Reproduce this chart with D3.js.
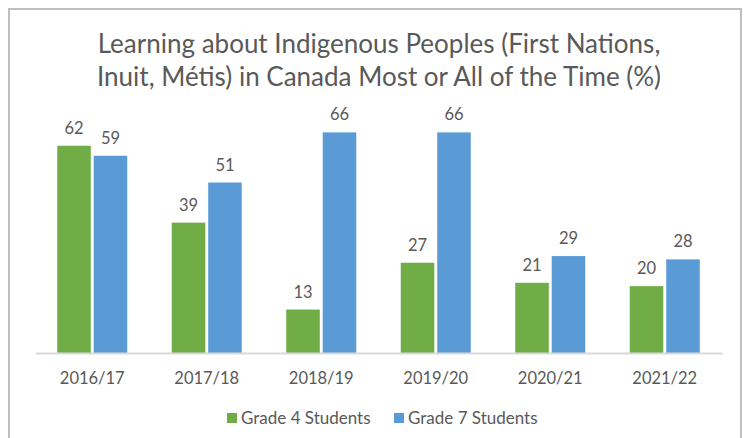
<!DOCTYPE html>
<html>
<head>
<meta charset="utf-8">
<script src="https://cdn.jsdelivr.net/npm/d3@7"></script>
<style>
  body { margin: 0; background: #fff; }
  text { font-family: Lato, "Open Sans", sans-serif; fill: #595959; }
</style>
</head>
<body>
<div class="canva"></div>
<script>
// chart data
const years = ["2016/17", "2017/18", "2018/19", "2019/20", "2020/21", "2021/22"]
const grade4 = [62, 39, 13, 27, 21, 20]
const grade7 = [59, 51, 66, 66, 29, 28]
const seriesNames = ["Grade 4 Students", "Grade 7 Students"]
const seriesColors = ["#70ad47", "#5b9bd5"]
const titleLines = ["Learning about Indigenous Peoples (First Nations,", "Inuit, Métis) in Canada Most or All of the Time (%)"]

const W = 745, H = 438
const plotLeft = 35, plotRight = 722, base = 353, plotTop = 119

function render() {
    const svg = d3.select('.canva').append('svg')
        .attr('width', W)
        .attr('height', H)

    // frame
    svg.append('rect')
        .attr('x', 9).attr('y', 9)
        .attr('width', 732).attr('height', 440)
        .attr('fill', 'none')
        .attr('stroke', '#bfbfbf')
        .attr('stroke-width', 2)

    // title
    svg.append('g').selectAll('text')
        .data(titleLines)
        .enter().append('text')
        .attr('x', 379)
        .attr('y', (d, i) => 53 + i * 33)
        .attr('text-anchor', 'middle')
        .style('font-size', '26px')
        .text(d => d)

    const x = d3.scaleBand().domain(years).range([plotLeft, plotRight])
    const xs = d3.scaleBand().domain([0, 1]).range([0, 70]).paddingInner(0.08)
    const y = d3.scaleLinear().domain([0, 70]).range([base, plotTop])

    const rows = years.map((yr, i) => ({year: yr, vals: [grade4[i], grade7[i]]}))

    const groups = svg.append('g').selectAll('g')
        .data(rows)
        .enter().append('g')
        .attr('transform', d => `translate(${x(d.year) + (x.bandwidth() - 70) / 2},0)`)

    groups.selectAll('rect')
        .data(d => d.vals)
        .enter().append('rect')
        .attr('x', (d, i) => xs(i))
        .attr('y', d => y(d))
        .attr('width', xs.bandwidth())
        .attr('height', d => base - y(d))
        .attr('fill', (d, i) => seriesColors[i])

    groups.selectAll('text')
        .data(d => d.vals)
        .enter().append('text')
        .attr('x', (d, i) => xs(i) + xs.bandwidth() / 2)
        .attr('y', d => y(d) - 12)
        .attr('text-anchor', 'middle')
        .style('font-size', '16.5px')
        .text(d => d)

    // x axis
    const axis = svg.append('g')
        .attr('transform', `translate(0,${base})`)
        .call(d3.axisBottom(x).tickSize(0).tickPadding(19))
    axis.select('.domain').attr('stroke', '#d9d9d9').attr('stroke-width', 2)
    axis.selectAll('text').style('font-size', '16.5px').attr('fill', '#595959')
        .attr('font-family', 'Lato, sans-serif')

    // legend
    const legend = svg.append('g').selectAll('g')
        .data(seriesNames)
        .enter().append('g')
        .attr('transform', (d, i) => `translate(${227 + i * 167},413)`)
    legend.append('rect')
        .attr('width', 10).attr('height', 10)
        .attr('fill', (d, i) => seriesColors[i])
    legend.append('text')
        .attr('x', 14).attr('y', 10.5)
        .style('font-size', '17px')
        .text(d => d)
}
render()
</script>
</body>
</html>
